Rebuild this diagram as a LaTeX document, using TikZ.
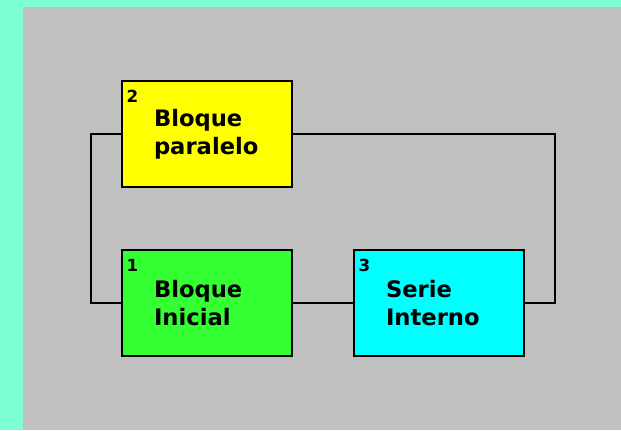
\documentclass[tikz,border=0pt]{standalone}
\usepackage{fontspec}
\setmainfont{DejaVu Sans}
\usepackage{tikz}
\usetikzlibrary{calc}
\definecolor{aquabg}{RGB}{127,255,212}
\definecolor{panelgray}{RGB}{192,192,192}
\definecolor{blockyellow}{RGB}{255,255,0}
\definecolor{blockgreen}{RGB}{51,255,51}
\definecolor{blockcyan}{RGB}{0,255,255}
\newcommand{\blockw}{127.5pt}
\newcommand{\blockh}{79.5pt}
\newcommand{\wirewidth}{1.1pt}
\tikzset{
  block/.style={draw=black, line width=\wirewidth, minimum width=\blockw, minimum height=\blockh,
    text width=79.5pt, inner xsep=24pt, align=left, font=\fontsize{17}{21}\selectfont\bfseries},
  num/.style={anchor=base west, inner sep=0pt, font=\fontsize{12.5}{14}\selectfont\bfseries},
  wire/.style={draw=black, line width=\wirewidth}
}

\begin{document}
\begin{tikzpicture}[x=0.75pt, y=-0.75pt]
\fill[aquabg] (0,0) rectangle (621,430);
\fill[panelgray] (23,7) rectangle (621,430);
%blocks
\node[block, fill=blockyellow] (2) at (207,134) {Bloque\\paralelo};
\node[block, fill=blockgreen] (1) at (207,303) {Bloque\\Inicial};
\node[block, fill=blockcyan] (3) at (439,303) {Serie\\Interno};
\node[num] (n2) at ($(2.north west)+(5,22)$) {2};
\node[num] (n1) at ($(1.north west)+(5,22)$) {1};
\node[num] (n3) at ($(3.north west)+(5,22)$) {3};
%wires
\coordinate (lft) at (91,0);
\coordinate (rgt) at (555,0);
\draw[wire] (2.west) -- (2.west -| lft) |- (1.west);
\draw[wire] (1.east) -- (3.west);
\draw[wire] (2.east) -- (2.east -| rgt) |- (3.east);
\end{tikzpicture}
\end{document}
